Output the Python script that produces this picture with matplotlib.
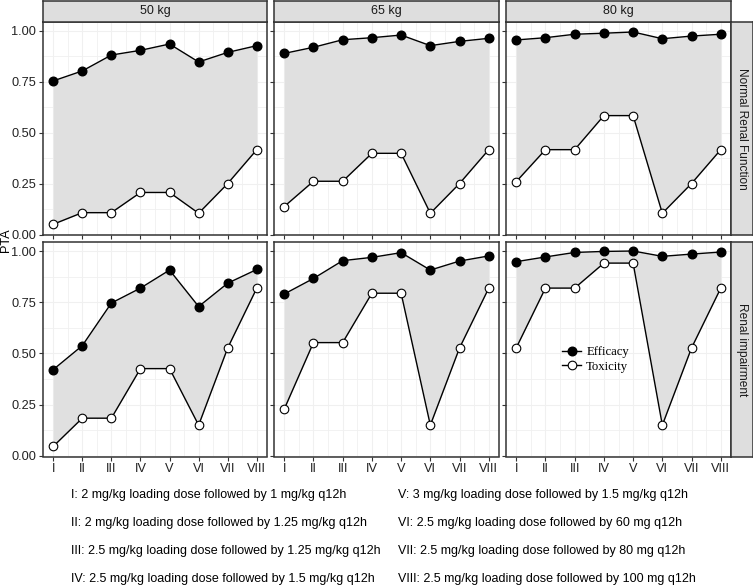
import matplotlib
matplotlib.use("Agg")
import matplotlib.pyplot as plt
from matplotlib.lines import Line2D
import numpy as np

regimens = ["I", "II", "III", "IV", "V", "VI", "VII", "VIII"]
weights = ["50 kg", "65 kg", "80 kg"]
conditions = ["Normal Renal Function", "Renal impairment"]

# Efficacy / toxicity PTA by condition and weight
eff_normal_50 = [0.755, 0.804, 0.882, 0.905, 0.936, 0.848, 0.895, 0.928]
tox_normal_50 = [0.052, 0.109, 0.109, 0.208, 0.208, 0.106, 0.252, 0.418]
eff_normal_65 = [0.890, 0.920, 0.957, 0.967, 0.980, 0.928, 0.949, 0.964]
tox_normal_65 = [0.139, 0.263, 0.263, 0.400, 0.400, 0.106, 0.252, 0.418]
eff_normal_80 = [0.956, 0.967, 0.984, 0.989, 0.995, 0.962, 0.975, 0.984]
tox_normal_80 = [0.261, 0.418, 0.418, 0.585, 0.585, 0.106, 0.252, 0.418]

eff_renal_50 = [0.421, 0.538, 0.746, 0.819, 0.907, 0.729, 0.843, 0.910]
tox_renal_50 = [0.046, 0.184, 0.184, 0.426, 0.426, 0.150, 0.527, 0.819]
eff_renal_65 = [0.790, 0.866, 0.953, 0.969, 0.992, 0.907, 0.951, 0.976]
tox_renal_65 = [0.228, 0.553, 0.553, 0.794, 0.794, 0.150, 0.527, 0.819]
eff_renal_80 = [0.948, 0.971, 0.993, 0.998, 1.000, 0.974, 0.985, 0.995]
tox_renal_80 = [0.527, 0.819, 0.819, 0.941, 0.941, 0.150, 0.527, 0.819]

efficacy = [[eff_normal_50, eff_normal_65, eff_normal_80],
            [eff_renal_50, eff_renal_65, eff_renal_80]]
toxicity = [[tox_normal_50, tox_normal_65, tox_normal_80],
            [tox_renal_50, tox_renal_65, tox_renal_80]]

y_ticks = [0.0, 0.25, 0.5, 0.75, 1.0]
y_ticklabels = ["0.00", "0.25", "0.50", "0.75", "1.00"]

notes_left = [
    "I: 2 mg/kg loading dose followed by 1 mg/kg q12h",
    "II: 2 mg/kg loading dose followed by 1.25 mg/kg q12h",
    "III: 2.5 mg/kg loading dose followed by 1.25 mg/kg q12h",
    "IV: 2.5 mg/kg loading dose followed by 1.5 mg/kg q12h",
]
notes_right = [
    "V: 3 mg/kg loading dose followed by 1.5 mg/kg q12h",
    "VI: 2.5 mg/kg loading dose followed by 60 mg q12h",
    "VII: 2.5 mg/kg loading dose followed by 80 mg q12h",
    "VIII: 2.5 mg/kg loading dose followed by 100 mg q12h",
]

W, H = 753, 587
fig = plt.figure(figsize=(W / 100, H / 100), dpi=100)
plt.rcParams['font.family'] = ['Liberation Sans', 'DejaVu Sans']

def rect(x0, y0, x1, y1):
    return [x0 / W, 1 - y1 / H, (x1 - x0) / W, (y1 - y0) / H]

col_x = [(43, 267), (274, 499), (506, 731)]
row_y = [(22, 235.5), (242, 456.5)]
border = "#333333"
grid_c = "#f0f0f0"
strip_fill = "#dedede"
xs = np.arange(1, len(regimens) + 1)

for r in range(2):
    for c in range(3):
        x0, x1 = col_x[c]
        y0, y1 = row_y[r]
        ax = fig.add_axes(rect(x0, y0, x1, y1))
        ax.set_xlim(0.65, 8.35)
        ax.set_ylim(-0.003, 1.044)
        ax.set_xticks(xs)
        ax.set_xticks(np.arange(1.5, 8.5, 1.0), minor=True)
        ax.set_yticks(y_ticks)
        ax.set_yticks([0.125, 0.375, 0.625, 0.875], minor=True)
        ax.grid(True, which='major', color=grid_c, lw=0.8, zorder=0)
        ax.grid(True, which='minor', color=grid_c, lw=0.6, zorder=0)
        ax.set_axisbelow(True)
        ax.fill_between(xs, toxicity[r][c], efficacy[r][c], color="#e0e0e0", lw=0, zorder=1)
        ax.plot(xs, efficacy[r][c], color="black", lw=1.0, marker='o', ms=6.2,
                mfc='black', mec='black', zorder=3)
        ax.plot(xs, toxicity[r][c], color="black", lw=1.0, marker='o', ms=6.2,
                mfc='white', mec='black', mew=0.8, zorder=3)
        for s in ax.spines.values():
            s.set_color(border)
            s.set_linewidth(1.1)
        ax.tick_params(which='minor', length=0)
        ax.tick_params(which='major', length=3, color=border, width=0.8,
                       labelsize=9.2, labelcolor="#222222", pad=2)
        if r == 1:
            ax.set_xticklabels(regimens)
        else:
            ax.set_xticklabels([])
        if c == 0:
            ax.set_yticklabels(y_ticklabels)
        else:
            ax.set_yticklabels([])
        if r == 1 and c == 2:
            handles = [Line2D([], [], color='black', lw=1.0, marker='o', ms=6.2, mfc='black', mec='black'),
                       Line2D([], [], color='black', lw=1.0, marker='o', ms=6.2, mfc='white', mec='black', mew=0.8)]
            leg = fig.legend(handles, ["Efficacy", "Toxicity"], loc='center left',
                             bbox_to_anchor=(562 / W, 1 - 359.5 / H),
                             frameon=False, borderpad=0, borderaxespad=0,
                             handlelength=1.5, handletextpad=0.4, labelspacing=0.2,
                             prop={'family': 'Liberation Serif', 'size': 9.2})

# top strips
for c in range(3):
    x0, x1 = col_x[c]
    sax = fig.add_axes(rect(x0, 0.5, x1, 22))
    sax.set_facecolor(strip_fill)
    sax.set_xticks([]); sax.set_yticks([])
    for s in sax.spines.values():
        s.set_color(border); s.set_linewidth(1.1)
    sax.text(0.5, 0.5, weights[c], ha='center', va='center', fontsize=9,
             color="#1a1a1a", transform=sax.transAxes)

# right strips
for r in range(2):
    y0, y1 = row_y[r]
    sax = fig.add_axes(rect(731, y0, 752.5, y1))
    sax.set_facecolor(strip_fill)
    sax.set_xticks([]); sax.set_yticks([])
    for s in sax.spines.values():
        s.set_color(border); s.set_linewidth(1.1)
    sax.text(0.5, 0.5, conditions[r], ha='center', va='center', fontsize=8.6,
             rotation=-90, color="#1a1a1a", transform=sax.transAxes)

fig.text(5.5 / W, 1 - 240 / H, "PTA", rotation=90, ha='center', va='center', fontsize=9.2)

row_pos = [495, 523, 551, 579]
for i, (lt, rt) in enumerate(zip(notes_left, notes_right)):
    fig.text(71 / W, 1 - row_pos[i] / H, lt, ha='left', va='center', fontsize=9)
    fig.text(398 / W, 1 - row_pos[i] / H, rt, ha='left', va='center', fontsize=9)

fig.savefig("out.png", dpi=100)
